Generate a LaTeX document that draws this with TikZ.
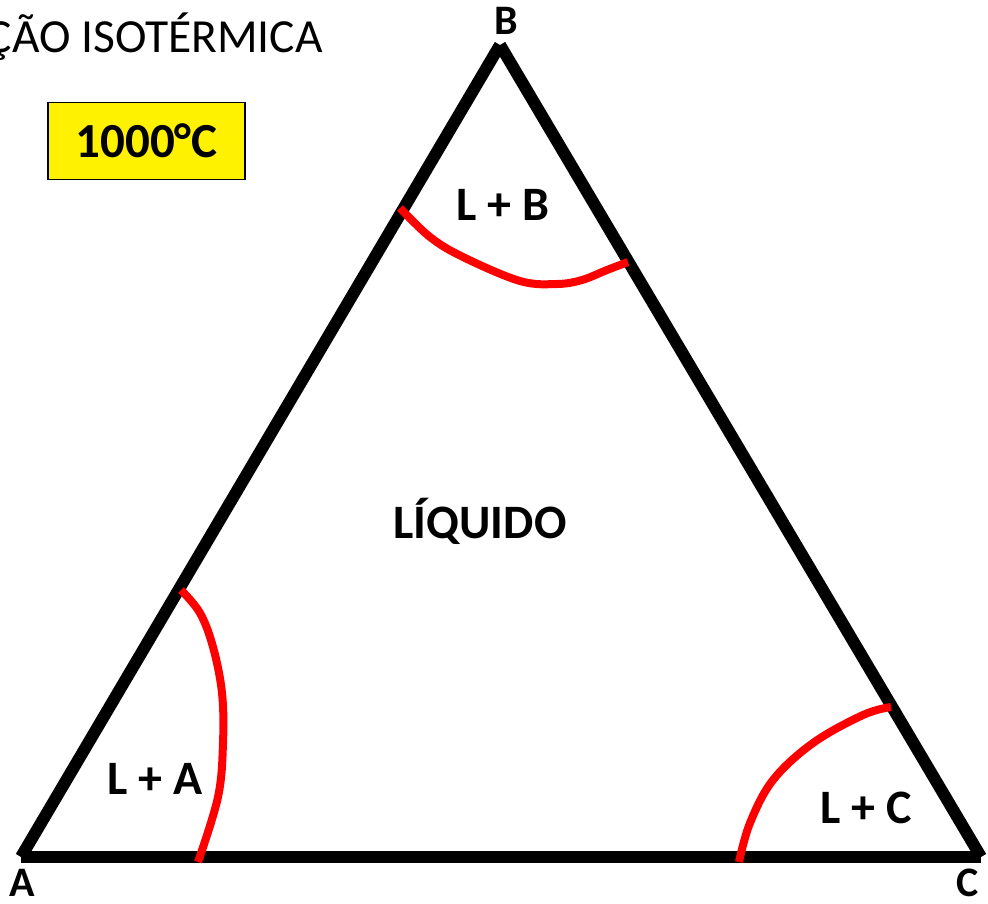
\documentclass[tikz,border=0pt]{standalone}
\usepackage{fontspec}
\setmainfont{Carlito}
\begin{document}
\begin{tikzpicture}[x=1pt,y=-1pt,
  side/.style={line width=12pt, line cap=butt, black},
  redline/.style={line width=8pt, red, line cap=butt, line join=round},
  region/.style={font=\fontsize{48}{48}\selectfont\bfseries, inner sep=0pt},
  vert/.style={font=\fontsize{42}{42}\selectfont\bfseries, inner sep=0pt}]
\useasboundingbox (0,0) rectangle (988,904);
\coordinate (A) at (21,857);
\coordinate (B) at (500,45);
\coordinate (C) at (981,857);
\draw[side] (A) -- (B);
\draw[side] (B) -- (C);
\draw[side] (C) -- (A);
% red boundaries
\draw[redline] plot[smooth, tension=0.6] coordinates {(400,208) (430,237) (463,257) (520,281) (557,284) (582,280) (607,270) (628,262)};
\draw[redline] plot[smooth, tension=0.6] coordinates {(181,590) (200,613) (213,647) (222,693) (223,743) (218,797) (198,862)};
\draw[redline] plot[smooth, tension=0.6] coordinates {(739,862) (750,823) (773,780) (813,743) (863,715) (891,707)};
% labels
\node[anchor=base east, font=\fontsize{47.5}{47.5}\selectfont, inner sep=0pt] (title) at (323,53) {ÇÃO ISOTÉRMICA};
\node[draw=black, line width=1.5pt, fill=yellow, minimum width=197pt, minimum height=77pt, inner sep=0pt,
      font=\fontsize{49}{49}\selectfont\bfseries] (temp) at (146.5,141) {1000°C};
\node[vert] (lB) at (506,21) {B};
\node[vert] (lA) at (22,883) {A};
\node[vert] (lC) at (968,883) {C};
\node[region] (LB) at (503,205) {L + B};
\node[region] (LIQ) at (480,521) {LÍQUIDO};
\node[region] (LA) at (155,779) {L + A};
\node[region] (LC) at (866,808) {L + C};
\end{tikzpicture}
\end{document}
